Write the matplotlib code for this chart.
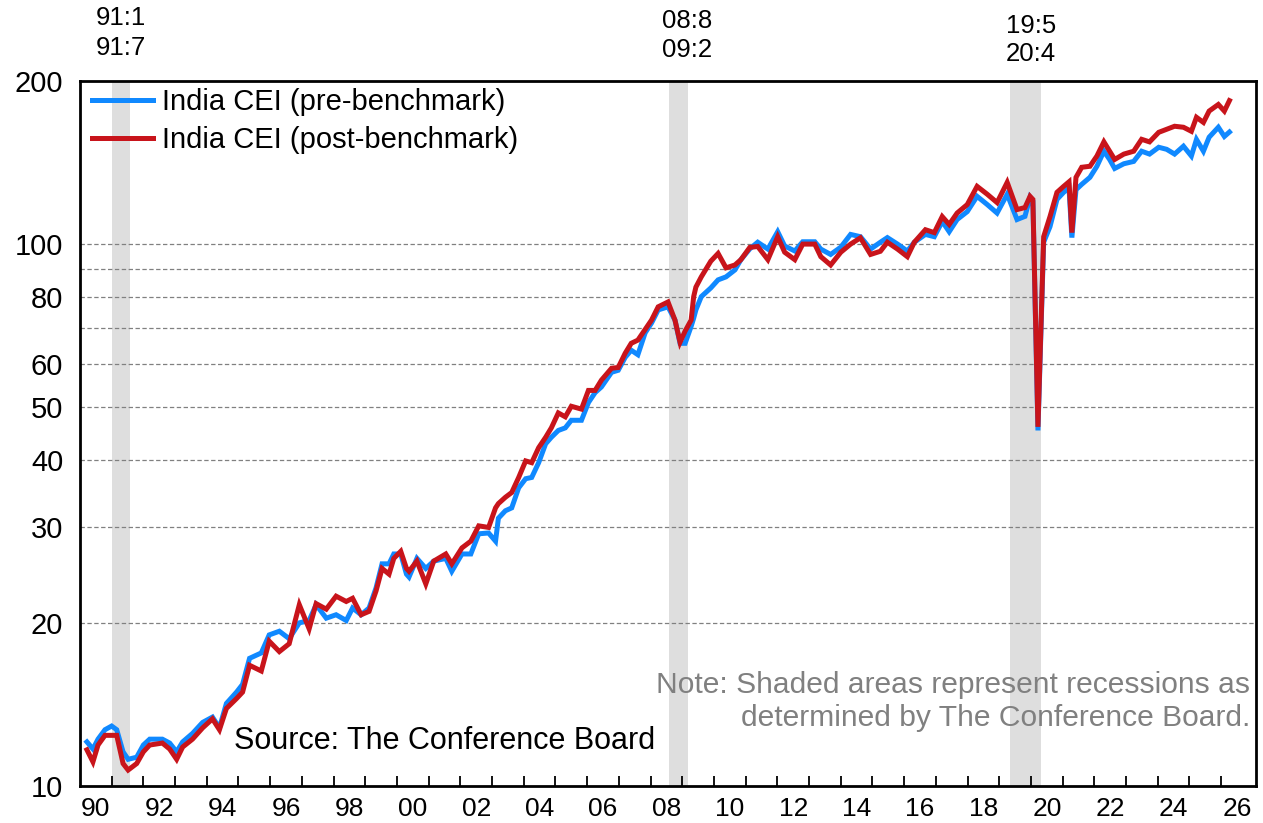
import matplotlib
matplotlib.use("Agg")
import matplotlib.pyplot as plt
from matplotlib.ticker import FixedLocator, FixedFormatter, NullFormatter, NullLocator
import matplotlib.transforms as mtrans

plt.rcParams['font.family'] = ['Liberation Sans', 'DejaVu Sans']

# decimal-year dates of the readings
dates = [1990.22, 1990.41, 1990.57, 1990.79, 1991.0, 1991.16, 1991.36, 1991.52, 1991.79,
         1992.0, 1992.2, 1992.6, 1992.83, 1993.05, 1993.24, 1993.55, 1993.87, 1994.18,
         1994.4, 1994.62, 1994.94, 1995.13, 1995.35, 1995.72, 1995.97, 1996.29, 1996.6,
         1996.92, 1997.23, 1997.45, 1997.77, 1998.08, 1998.4, 1998.6, 1998.87, 1999.12,
         1999.34, 1999.53, 1999.75, 1999.9, 2000.12, 2000.3, 2000.38, 2000.63, 2000.91,
         2001.16, 2001.54, 2001.73, 2002.05, 2002.33, 2002.58, 2002.89, 2003.11, 2003.2,
         2003.42, 2003.62, 2003.84, 2004.06, 2004.25, 2004.47, 2004.69, 2004.87, 2005.09,
         2005.31, 2005.5, 2005.82, 2006.04, 2006.25, 2006.45, 2006.77, 2006.98, 2007.2,
         2007.39, 2007.6, 2007.83, 2008.03, 2008.24, 2008.55, 2008.77, 2008.93, 2009.09,
         2009.28, 2009.36, 2009.43, 2009.6, 2009.9, 2010.13, 2010.38, 2010.66, 2010.85,
         2011.13, 2011.38, 2011.7, 2012.01, 2012.23, 2012.55, 2012.8, 2013.18, 2013.37,
         2013.68, 2014.0, 2014.31, 2014.62, 2014.94, 2015.25, 2015.47, 2015.79, 2016.1,
         2016.32, 2016.67, 2016.95, 2017.2, 2017.42, 2017.67, 2017.99, 2018.3, 2018.62,
         2018.93, 2019.25, 2019.56, 2019.81, 2019.97, 2020.06, 2020.22, 2020.4, 2020.6,
         2020.82, 2021.03, 2021.2, 2021.29, 2021.42, 2021.6, 2021.86, 2022.08, 2022.3,
         2022.48, 2022.64, 2022.93, 2023.24, 2023.49, 2023.74, 2024.03, 2024.28, 2024.53,
         2024.81, 2025.06, 2025.22, 2025.44, 2025.62, 2025.91, 2026.1, 2026.26]

pre_bench = [12.06, 11.7, 12.2, 12.7, 12.9, 12.7, 11.56, 11.2, 11.3,
             11.9, 12.2, 12.2, 12.0, 11.56, 12.06, 12.5, 13.1, 13.4,
             12.8, 14.2, 14.9, 15.4, 17.2, 17.6, 19.0, 19.3, 18.7,
             20.0, 20.2, 21.6, 20.4, 20.7, 20.2, 21.3, 20.7, 21.3,
             23.2, 25.7, 25.7, 26.8, 26.8, 24.6, 24.3, 26.3, 25.2,
             26.0, 26.3, 24.9, 26.8, 26.8, 29.2, 29.3, 28.3, 31.2,
             32.2, 32.6, 35.5, 36.9, 37.1, 39.5, 42.8, 44.0, 45.3,
             45.8, 47.3, 47.3, 51.0, 53.2, 54.5, 58.0, 58.5, 61.8,
             63.7, 62.5, 68.6, 71.5, 75.6, 76.6, 72.4, 65.6, 65.6,
             70.5, 73.0, 75.6, 80.0, 83.0, 85.9, 87.0, 89.6, 93.6,
             98.0, 100.8, 97.9, 105.4, 99.2, 97.1, 101.0, 101.0, 97.9,
             95.7, 98.7, 104.2, 103.2, 97.9, 100.8, 102.8, 100.0, 97.1,
             100.8, 104.2, 103.2, 110.1, 105.4, 111.0, 114.8, 122.5, 118.3,
             114.1, 123.6, 111.0, 112.5, 122.0, 120.0, 45.3, 100.8, 107.7,
             120.9, 124.6, 127.0, 102.8, 126.0, 128.9, 132.8, 139.2, 148.4,
             143.3, 137.9, 140.7, 142.1, 148.4, 146.6, 150.9, 149.6, 146.6,
             151.6, 145.4, 156.0, 148.4, 157.5, 164.3, 158.0, 161.0]

post_bench = [11.66, 11.08, 11.9, 12.4, 12.4, 12.4, 11.0, 10.7, 11.0,
              11.56, 11.9, 12.0, 11.7, 11.2, 11.8, 12.2, 12.8, 13.3,
              12.7, 13.9, 14.5, 14.9, 16.7, 16.3, 18.5, 17.7, 18.3,
              21.6, 19.5, 21.7, 21.2, 22.4, 21.9, 22.2, 20.7, 21.0,
              22.9, 25.2, 24.6, 26.3, 27.1, 25.2, 24.9, 26.0, 23.6,
              26.0, 26.8, 25.7, 27.5, 28.3, 30.2, 30.0, 32.6, 33.2,
              34.1, 34.8, 37.1, 39.8, 39.5, 42.1, 44.0, 45.8, 48.8,
              48.0, 50.2, 49.6, 53.7, 53.7, 56.1, 59.0, 59.2, 62.9,
              65.6, 66.5, 69.6, 72.4, 76.6, 78.2, 72.4, 65.9, 69.1,
              72.4, 80.0, 83.3, 87.0, 93.0, 96.1, 90.4, 91.5, 93.6,
              98.6, 99.0, 93.6, 103.2, 96.6, 93.6, 100.0, 100.0, 94.8,
              91.5, 96.6, 100.0, 102.7, 95.7, 97.0, 100.8, 97.9, 94.8,
              100.8, 106.3, 105.0, 112.4, 108.7, 114.1, 118.3, 127.8, 123.6,
              119.3, 130.0, 115.8, 116.8, 122.5, 120.9, 46.0, 103.2, 112.4,
              124.6, 127.8, 130.3, 105.0, 132.8, 138.6, 139.2, 145.4, 154.4,
              148.4, 143.3, 146.6, 148.4, 156.1, 154.4, 160.8, 162.9, 165.0,
              164.3, 161.5, 171.4, 167.7, 176.0, 181.0, 176.0, 184.0]

rec_start = [1991.0, 2008.58, 2019.33]
rec_end = [1991.58, 2009.17, 2020.33]
rec_labels = [("91:1", "91:7"), ("08:8", "09:2"), ("19:5", "20:4")]
rec_label_x = [1991.3, 2009.15, 2020.0]
rec_label_y = [(0.978, 0.942), (0.974, 0.939), (0.969, 0.934)]

ytick_vals = [10, 20, 30, 40, 50, 60, 80, 100, 200]
grid_vals = [20, 30, 40, 50, 60, 70, 80, 90, 100]
year_labels = ["90", "92", "94", "96", "98", "00", "02", "04", "06", "08",
               "10", "12", "14", "16", "18", "20", "22", "24", "26"]

blue = "#1089FF"
red = "#C8141B"

fig = plt.figure(figsize=(12.63, 8.23), dpi=100)
ax = fig.add_axes([0.0633, 0.045, 0.9312, 0.8566])

for s, e in zip(rec_start, rec_end):
    ax.axvspan(s, e, color="#DEDEDE", lw=0, zorder=0)

for g in grid_vals:
    ax.axhline(g, color="#808080", lw=0.9, ls=(0, (3.5, 2)), zorder=1)

ax.plot(dates, pre_bench, color=blue, lw=3.6, zorder=3, label="India CEI (pre-benchmark)",
        solid_joinstyle="miter")
ax.plot(dates, post_bench, color=red, lw=3.6, zorder=4, label="India CEI (post-benchmark)",
        solid_joinstyle="miter")

ax.set_yscale("log")
ax.set_ylim(10, 200)
ax.set_xlim(1990, 2027.1)

ax.yaxis.set_major_locator(FixedLocator(ytick_vals))
ax.yaxis.set_major_formatter(FixedFormatter([str(v) for v in ytick_vals]))
ax.yaxis.set_minor_locator(NullLocator())
ax.tick_params(axis="y", which="major", length=0, pad=12, labelsize=21)

years = list(range(1991, 2027))
ax.xaxis.set_major_locator(FixedLocator(years))
ax.xaxis.set_major_formatter(NullFormatter())
ax.tick_params(axis="x", which="major", direction="in", length=7, width=1.3)
label_pos = [1990.5 + 2 * i for i in range(len(year_labels))]
ax.xaxis.set_minor_locator(FixedLocator(label_pos))
ax.xaxis.set_minor_formatter(FixedFormatter(year_labels))
ax.tick_params(axis="x", which="minor", length=0, pad=8, labelsize=19)

for sp in ax.spines.values():
    sp.set_linewidth(2)
    sp.set_color("black")
    sp.set_zorder(6)

leg = ax.legend(loc="upper left", bbox_to_anchor=(0.0102, 0.99), frameon=False,
                fontsize=21, handlelength=2.1, handletextpad=0.3, borderpad=0,
                borderaxespad=0, labelspacing=0.35)

ax.text(0.131, 0.0638, "Source: The Conference Board", transform=ax.transAxes,
        fontsize=22, ha="left", va="center", color="black", zorder=7)
ax.text(0.995, 0.1435, "Note: Shaded areas represent recessions as", transform=ax.transAxes,
        fontsize=21.6, ha="right", va="center", color="#808080", zorder=7)
ax.text(0.995, 0.0965, "determined by The Conference Board.", transform=ax.transAxes,
        fontsize=21.6, ha="right", va="center", color="#808080", zorder=7)

trans = mtrans.blended_transform_factory(ax.transData, fig.transFigure)
for (l1, l2), lx, (y1, y2) in zip(rec_labels, rec_label_x, rec_label_y):
    fig.text(lx, y1, l1, transform=trans, ha="center", va="center", fontsize=18.5)
    fig.text(lx, y2, l2, transform=trans, ha="center", va="center", fontsize=18.5)

fig.savefig("out.png", dpi=100)
